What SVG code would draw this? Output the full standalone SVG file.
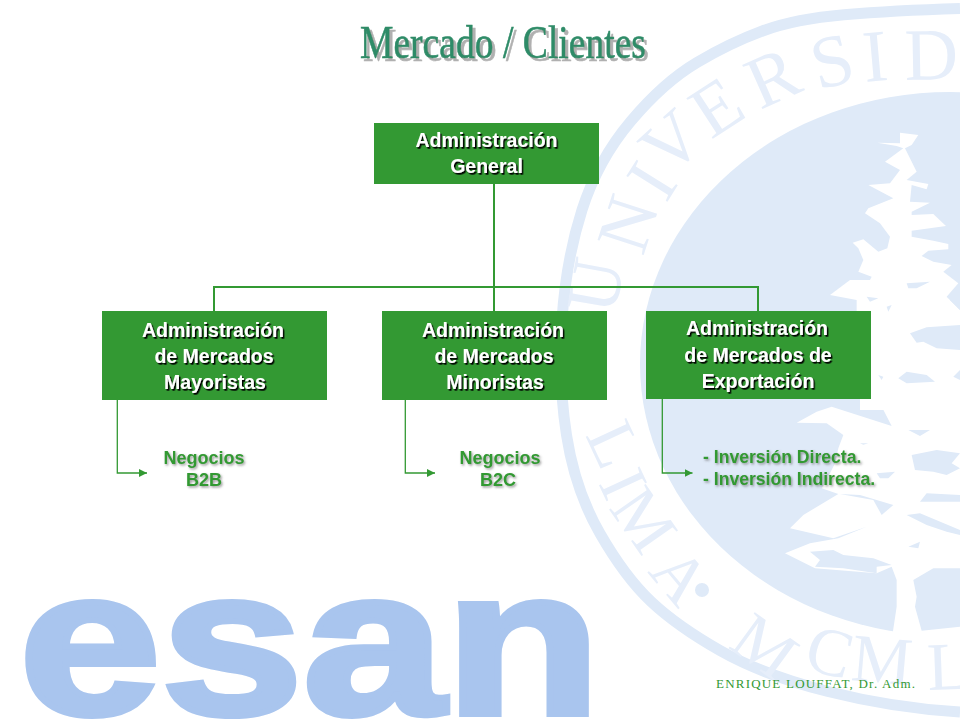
<svg xmlns="http://www.w3.org/2000/svg" width="960" height="720" viewBox="0 0 960 720">
<style>
.seal{fill:#dfeaf8}
.white{fill:#fff}
.sealtext{font-family:"Liberation Serif",serif;fill:#e6eefa}
.box{fill:#339933}
.boxtext{font-family:"Liberation Sans",Arial,sans-serif;font-weight:bold;font-size:19.5px;fill:#fff;text-anchor:middle;filter:url(#dark)}
.label{font-family:"Liberation Sans",Arial,sans-serif;font-weight:bold;font-size:18px;fill:#339933;filter:url(#soft)}
.line{fill:none;stroke:#339933;stroke-width:2}
.arrow{fill:none;stroke:#339933;stroke-width:1.3;marker-end:url(#head)}
</style>
<defs>
<marker id="head" markerUnits="userSpaceOnUse" markerWidth="9" markerHeight="9" refX="8" refY="4.5" orient="auto"><path d="M0,0.5 L8,4.5 L0,8.5 Z" fill="#339933"/></marker>
<filter id="dark" x="-10%" y="-20%" width="120%" height="150%"><feDropShadow dx="1.5" dy="1.7" stdDeviation="0.6" flood-color="#000" flood-opacity="1"/></filter>
<filter id="soft" x="-10%" y="-20%" width="120%" height="150%"><feDropShadow dx="1.3" dy="1.5" stdDeviation="0.9" flood-color="#555" flood-opacity="0.6"/></filter>
<filter id="titleshadow" x="-5%" y="-20%" width="110%" height="150%"><feDropShadow dx="3" dy="3" stdDeviation="0.5" flood-color="#b0b0b0" flood-opacity="1"/></filter>
</defs>
<rect width="960" height="720" fill="#fff"/>
<g id="seal">
<path fill="none" stroke="#dfeaf8" stroke-width="11" d="M960,8.5 Q893,10.5 844,14.8 Q795,19 762.5,31 Q730,43 697,62.5 Q664,82 631,121 Q598,160 582,210 Q566,260 562,320 Q558,380 566.5,435 Q575,490 600,533.5 Q625,577 651,601.5 Q677,626 720,650.5 Q763,675 828,691.5 Q893,708 960,712"/>
<ellipse class="seal" cx="950" cy="364" rx="310" ry="272"/>
<g class="white">
<path transform="translate(800,120) scale(.3333)" d="M300,38 355,45 335,75 315,85 350,155 320,180 385,192 380,208 335,195 330,245 390,248 335,275 335,285 400,282 438,318 335,332 335,350 400,362 445,372 445,388 385,392 365,408 400,425 455,435 430,455 475,490 440,530 480,570 480,600 170,600 170,540 90,525 150,480 210,480 215,470 175,455 190,420 175,385 158,368 190,358 235,395 262,385 270,350 240,310 195,280 205,265 280,235 205,195 270,190 300,150 255,125 310,85 290,78 232,68 300,70Z"/>
<rect x="860" y="310" width="100" height="100"/>
<path transform="translate(760,420) scale(.3333)" d="M110,8 170,-25 215,-40 395,18 350,-70 600,-70 600,660 395,660 410,560 410,480 395,440 350,460 165,445 75,400 150,370 235,355 320,320 220,355 90,325 130,285 235,222 185,205 200,180 225,130 235,85 250,45 200,10Z"/>
</g>
<g class="seal">
<path transform="translate(800,120) scale(.3333)" d="M320,490 390,485 350,505 325,505Z M200,530 235,535 210,545Z"/>
<path transform="translate(760,300) scale(.3333)" d="M450,100 500,82 600,75 600,150 530,145 490,125 470,128Z M415,235 440,215 500,225 525,245 440,250Z M355,225 370,230 365,240Z M380,20 395,15 385,35Z M570,0 600,0 600,30Z M580,230 600,210 600,240Z"/>
<path transform="translate(760,420) scale(.3333)" d="M460,480 520,445 600,445 600,620 485,632 465,560 470,530Z M455,105 530,90 600,100 575,130 600,145 560,165 520,155 465,150Z M350,160 405,155 385,175 360,175Z M445,30 510,30 480,48Z M480,245 500,220 600,225 600,245 520,245Z M440,285 480,280 600,330 600,345 560,335 500,315Z M445,380 480,365 475,385Z M300,70 325,70 310,74Z M240,222 300,225 400,255 365,285 340,240Z M150,395 220,390 250,405 340,415 395,435 350,440 350,460 250,445 165,440 180,420Z"/>
</g>
<text class="sealtext" font-size="74" x="615 643 666 668 711 760 818 865 905" y="316 257 204 178 140 110 90 82 80" rotate="-80 -72 -58 -42 -33 -24 -14 -5 -1">UNIVERSID</text>
<text class="sealtext" font-size="68" x="585 598 608 647" y="435 483 508 572" rotate="65 65 55 50">LIMA</text>
<circle class="seal" cx="702" cy="590" r="7"/>
<text class="sealtext" font-size="68" x="727 802 850 928" y="647 668 680 690" rotate="36 15 5 -2">MCML</text>
</g>
<text id="esan" x="19" y="714" font-family="'Liberation Sans',Arial,sans-serif" font-weight="bold" font-size="208" textLength="582" lengthAdjust="spacingAndGlyphs" fill="#a9c5ee" stroke="#a9c5ee" stroke-width="6">esan</text>
<text id="title" x="360" y="58" font-family="'Liberation Serif','Times New Roman',serif" font-size="46" textLength="286" lengthAdjust="spacingAndGlyphs" fill="#2e8b67" stroke="#2e8b67" stroke-width="0.6" filter="url(#titleshadow)">Mercado / Clientes</text>
<g id="connectors">
<path class="line" d="M494,184 V311 M214,311 V287 H758 V311"/>
<path class="arrow" d="M117.3,400 V473 H147"/>
<path class="arrow" d="M405.3,400 V473 H435"/>
<path class="arrow" d="M662.3,399 V473 H692.5"/>
</g>
<g id="node-general">
<rect class="box" x="374" y="123" width="225" height="61"/>
<text class="boxtext" x="486.5" y="147">Administración</text>
<text class="boxtext" x="486.5" y="173">General</text>
</g>
<g id="node-mayoristas">
<rect class="box" x="102" y="311" width="225" height="89"/>
<text class="boxtext" x="213" y="337">Administración</text>
<text class="boxtext" x="214" y="363">de Mercados</text>
<text class="boxtext" x="215" y="389">Mayoristas</text>
</g>
<g id="node-minoristas">
<rect class="box" x="382" y="311" width="225" height="89"/>
<text class="boxtext" x="493" y="337">Administración</text>
<text class="boxtext" x="494" y="363">de Mercados</text>
<text class="boxtext" x="495" y="389">Minoristas</text>
</g>
<g id="node-exportacion">
<rect class="box" x="646" y="311" width="225" height="88"/>
<text class="boxtext" x="757" y="335">Administración</text>
<text class="boxtext" x="758" y="362">de Mercados de</text>
<text class="boxtext" x="758" y="388">Exportación</text>
</g>
<g id="label-b2b">
<text class="label" x="204" y="464" text-anchor="middle">Negocios</text>
<text class="label" x="204" y="486" text-anchor="middle">B2B</text>
</g>
<g id="label-b2c">
<text class="label" x="500" y="464" text-anchor="middle">Negocios</text>
<text class="label" x="498" y="486" text-anchor="middle">B2C</text>
</g>
<g id="label-inversion">
<text class="label" x="703" y="463" style="font-size:17.6px">- Inversión Directa.</text>
<text class="label" x="703" y="485" style="font-size:17.6px">- Inversión Indirecta.</text>
</g>
<text id="footer" x="716" y="688" font-family="'Liberation Serif','Times New Roman',serif" font-size="13" textLength="199" fill="#339933">ENRIQUE LOUFFAT, Dr. Adm.</text>
</svg>
